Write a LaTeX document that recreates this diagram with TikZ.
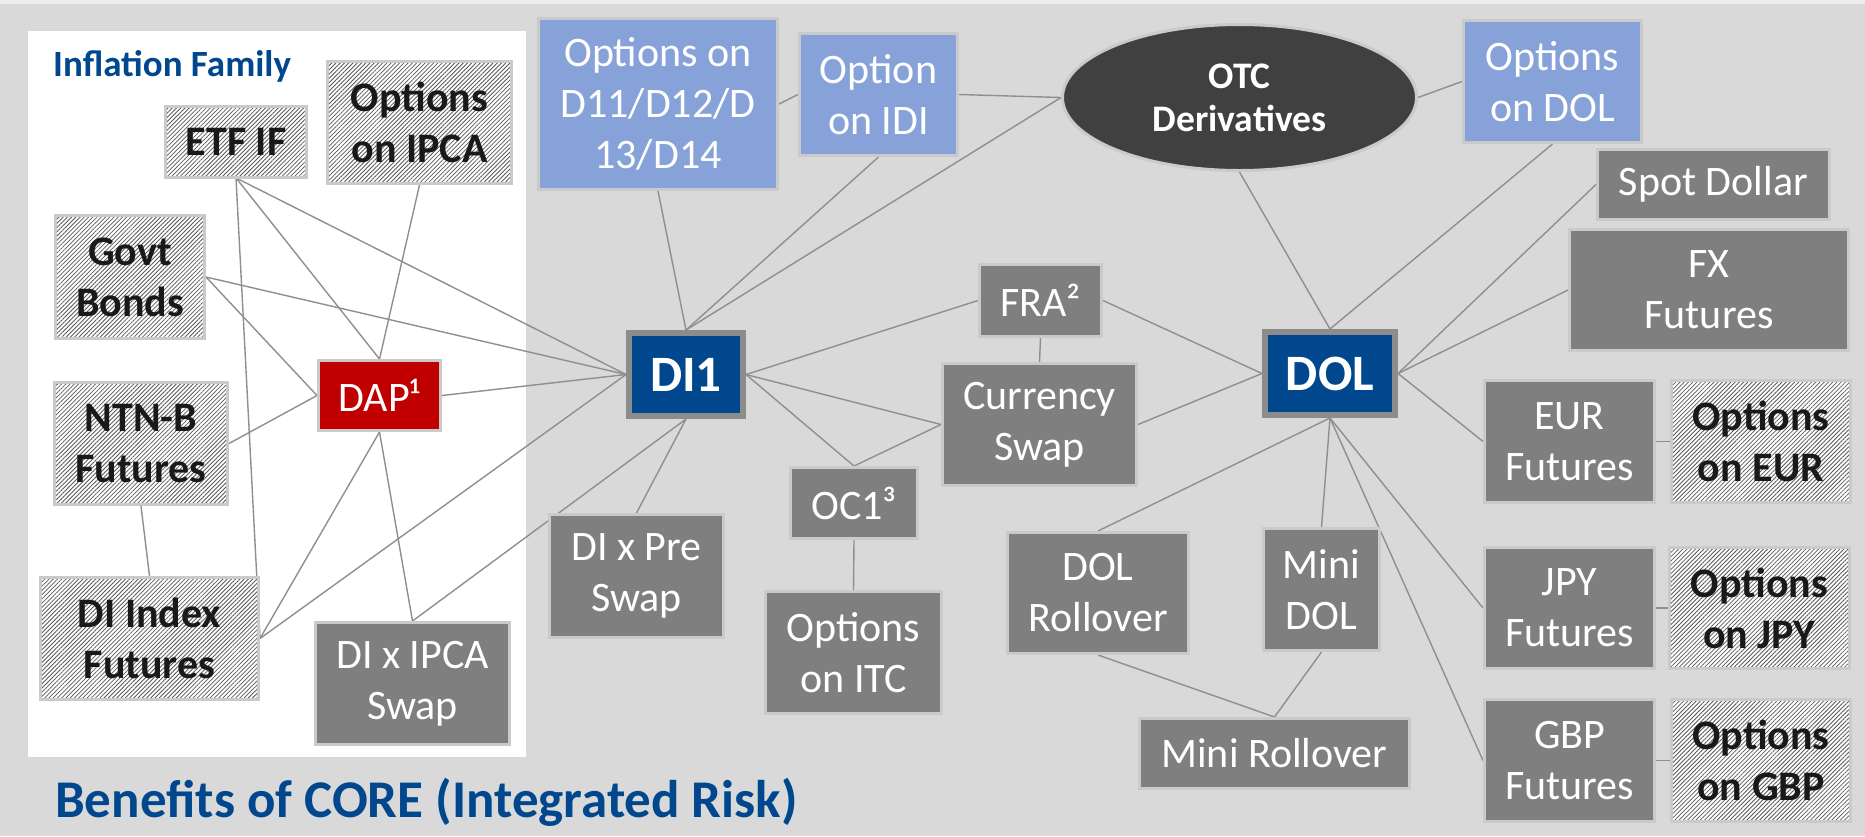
\documentclass[tikz,border=0pt]{standalone}
\usepackage{fontspec}
\setmainfont{Carlito}
\usepackage{tikz}
\usetikzlibrary{shapes.geometric, patterns.meta, backgrounds}
\definecolor{cBack}{HTML}{D9D9D9}
\definecolor{cTop}{HTML}{EDEDED}
\definecolor{cBox}{HTML}{7F7F7F}
\definecolor{cRim}{HTML}{CACACA}
\definecolor{cLight}{HTML}{86A2D8}
\definecolor{cNavy}{HTML}{00478D}
\definecolor{cHubRim}{HTML}{8C8C8C}
\definecolor{cRed}{HTML}{C00000}
\definecolor{cDark}{HTML}{404040}
\definecolor{cLink}{HTML}{8F8F8F}

\begin{document}
\begin{tikzpicture}[x=1pt, y=-1pt,
      sz/.style 2 args={minimum width=#1pt, minimum height=#2pt},
      box/.style={draw=cRim, line width=3pt, inner sep=0pt, align=center,
        text=white, font=\fontsize{42}{51}\selectfont},
      grey/.style={box, fill=cBox},
      lblue/.style={box, fill=cLight},
      hatch/.style={box, text=black!90, font=\bfseries\fontsize{42}{51}\selectfont,
        preaction={fill=white},
        pattern={Lines[angle=45, distance=3pt, line width=0.8pt]},
        pattern color=black!65},
      hub/.style={box, fill=cNavy, draw=cHubRim, line width=6pt,
        font=\bfseries\fontsize{51}{60}\selectfont},
      link/.style={cLink, line width=1.4pt}]
    \useasboundingbox (0,0) rectangle (1865,836);
    % inflation family
    \node[anchor=base west, inner sep=0pt, text=cNavy,
      font=\bfseries\fontsize{37}{44}\selectfont] (famlabel) at (53,76) {Inflation Family};
    \node[hatch, sz={141}{71}] (etf) at (236,142) {ETF IF};
    \node[hatch, sz={184}{122}] (opipca) at (419.5,122.5) {Options\\on IPCA};
    \node[hatch, sz={149}{123}] (govt) at (130,277) {Govt\\Bonds};
    \node[hatch, sz={173}{122}] (ntnb) at (141,443.5) {NTN-B\\Futures};
    \node[hatch, sz={218}{122}] (dii) at (149.5,638.5) {DI Index\\Futures};
    \node[box, fill=cRed, sz={122}{70}] (dap) at (379.5,395.5) {DAP¹};
    \node[grey, sz={194}{122}] (dixipca) at (412.5,683.5) {DI x IPCA\\Swap};
    % rates
    \node[lblue, sz={239}{171}] (opdi) at (658,104) {Options on\\D11/D12/D\\13/D14};
    \node[lblue, sz={158}{122}] (opidi) at (878.5,94.5) {Option\\on IDI};
    \node[hub, sz={114}{83}] (di1) at (686,374.5) {DI1};
    \node[grey, sz={174}{123}] (dixpre) at (636.5,576) {DI x Pre\\Swap};
    \node[grey, sz={127}{71}] (oc1) at (854,503) {OC1³};
    \node[grey, sz={176}{122}] (opitc) at (853.5,652.5) {Options\\on ITC};
    \node[grey, sz={122}{72}] (fra) at (1040.5,300.5) {FRA²};
    \node[grey, sz={194}{122}] (ccy) at (1039.5,424.5) {Currency\\Swap};
    \node[ellipse, draw=cRim, line width=3pt, fill=cDark, text=white, inner sep=0pt,
      align=center, minimum width=354pt, minimum height=146pt,
      font=\bfseries\fontsize{37.5}{43}\selectfont] (otc) at (1239.5,97.5) {OTC\\Derivatives};
    % currency
    \node[lblue, sz={178}{122}] (opdol) at (1552.5,81.5) {Options\\on DOL};
    \node[grey, sz={232}{70}] (spot) at (1713.5,184.5) {Spot Dollar};
    \node[grey, sz={279}{121}] (fx) at (1709,290) {FX\\Futures};
    \node[hub, sz={130}{83}] (dol) at (1330,373.5) {DOL};
    \node[grey, sz={170}{122}] (eur) at (1569.5,441.5) {EUR\\Futures};
    \node[hatch, sz={179}{122}] (opeur) at (1761,441.5) {Options\\on EUR};
    \node[grey, sz={170}{121}] (jpy) at (1569.5,608) {JPY\\Futures};
    \node[hatch, sz={180}{121}] (opjpy) at (1759.5,608) {Options\\on JPY};
    \node[grey, sz={170}{122}] (gbp) at (1569.5,760.5) {GBP\\Futures};
    \node[hatch, sz={179}{122}] (opgbp) at (1761,760.5) {Options\\on GBP};
    \node[grey, sz={181}{121}] (dolroll) at (1098,593) {DOL\\Rollover};
    \node[grey, sz={116}{122}] (minidol) at (1321.5,589.5) {Mini\\DOL};
    \node[grey, sz={270}{70}] (miniroll) at (1274.5,753.5) {Mini Rollover};
    \node[anchor=base west, inner sep=0pt, text=cNavy,
      font=\bfseries\fontsize{53}{64}\selectfont] (title) at (55,817)
      {Benefits of CORE (Integrated Risk)};
    \begin{pgfonlayer}{background}
      \fill[cBack] (0,0) rectangle (1865,836);
      \fill[cTop] (0,0) rectangle (1865,4);
      \fill[white] (28,31) rectangle (526,757);
      % from / to
      \foreach \a/\b in {
          etf.south/dii.east, etf.south/dap.north, etf.south/di1.west,
          opipca.south/dap.north, govt.east/di1.west, govt.east/dap.west,
          ntnb.east/dap.west, ntnb.south/dii.north, dap.east/di1.west,
          dap.south/dii.east, dap.south/dixipca.north, dii.east/di1.west,
          dixipca.north/di1.south, dixpre.north/di1.south,
          opdi.east/opidi.west, opdi.south/di1.north, opidi.south/di1.north,
          opidi.east/otc.west, di1.north/otc.west,
          di1.east/fra.west, di1.east/ccy.west, di1.east/oc1.north,
          oc1.north/ccy.west, oc1.south/opitc.north, fra.south/ccy.north,
          fra.east/dol.west, ccy.east/dol.west,
          otc.east/opdol.west, otc.south/dol.north, opdol.south/dol.north,
          spot.west/dol.east, fx.west/dol.east, dol.east/eur.west,
          dol.south/jpy.west, dol.south/gbp.west, dol.south/minidol.north,
          dol.south/dolroll.north, dolroll.south/miniroll.north,
          minidol.south/miniroll.north,
          eur.east/opeur.west, jpy.east/opjpy.west, gbp.east/opgbp.west} {
        \draw[link] (\a) -- (\b);
      }
    \end{pgfonlayer}
  \end{tikzpicture}
\end{document}
